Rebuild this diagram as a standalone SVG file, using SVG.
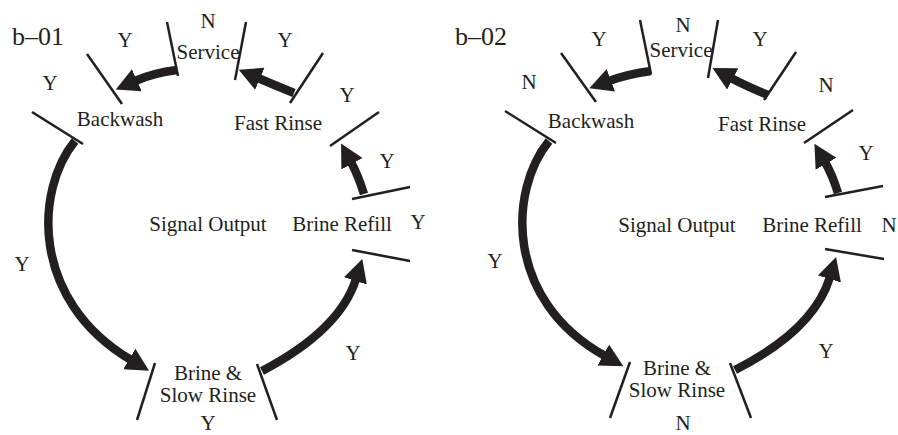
<svg xmlns="http://www.w3.org/2000/svg" width="898" height="435" viewBox="0 0 898 435">
<style>
text{font-family:"Liberation Serif","Times New Roman",serif;font-size:21px;fill:#231f20;text-anchor:middle}
.title{font-size:26px;text-anchor:start}
.tick{stroke:#231f20;stroke-width:2.5;fill:none}
.arr{stroke:#231f20;stroke-width:8.5;fill:none;marker-end:url(#head)}
</style>
<defs>
<marker id="head" markerUnits="userSpaceOnUse" markerWidth="24" markerHeight="26" viewBox="0 -13 24 26" refX="2" refY="0" orient="auto">
<path d="M0,-12 L23,0 L0,12 Z" fill="#231f20"/>
</marker>
</defs>
<rect width="898" height="435" fill="#ffffff"/>

<!-- Panel b-01 -->
<g id="panel-b01">
<text class="title" x="12" y="45">b–01</text>
<g id="b01-service"><text x="208" y="28">N</text><text x="208" y="59">Service</text></g>
<g id="b01-backwash"><text x="120" y="126">Backwash</text></g>
<g id="b01-fastrinse"><text x="278" y="130">Fast Rinse</text></g>
<g id="b01-signal"><text x="208" y="231">Signal Output</text></g>
<g id="b01-brinerefill"><text x="342" y="231">Brine Refill</text></g>
<g id="b01-slowrinse"><text x="208" y="380">Brine &amp;</text><text x="208" y="402">Slow Rinse</text></g>
<g id="b01-labels">
<text x="125" y="47">Y</text>
<text x="285" y="47">Y</text>
<text x="50" y="90">Y</text>
<text x="347" y="102">Y</text>
<text x="387" y="168">Y</text>
<text x="418" y="229">Y</text>
<text x="22" y="271">Y</text>
<text x="353" y="360">Y</text>
<text x="208" y="430">Y</text>
</g>
<g id="b01-ticks">
<line class="tick" x1="167" y1="22" x2="178" y2="76"/>
<line class="tick" x1="246" y1="22" x2="235" y2="80"/>
<line class="tick" x1="87" y1="54" x2="122" y2="104"/>
<line class="tick" x1="323" y1="53" x2="290" y2="103"/>
<line class="tick" x1="32" y1="112" x2="83" y2="144"/>
<line class="tick" x1="379" y1="112" x2="330" y2="146"/>
<line class="tick" x1="352" y1="199" x2="410" y2="187"/>
<line class="tick" x1="352" y1="250" x2="410" y2="261"/>
<line class="tick" x1="155" y1="363" x2="137" y2="420"/>
<line class="tick" x1="257" y1="364" x2="277" y2="420"/>
</g>
</g>

<!-- Panel b-02 -->
<g id="panel-b02">
<text class="title" x="455" y="45">b–02</text>
<g id="b02-service"><text x="683" y="32">N</text><text x="681" y="57">Service</text></g>
<g id="b02-backwash"><text x="591" y="128">Backwash</text></g>
<g id="b02-fastrinse"><text x="762" y="131">Fast Rinse</text></g>
<g id="b02-signal"><text x="677" y="232">Signal Output</text></g>
<g id="b02-brinerefill"><text x="812" y="232">Brine Refill</text></g>
<g id="b02-slowrinse"><text x="677" y="375">Brine &amp;</text><text x="677" y="397">Slow Rinse</text></g>
<g id="b02-labels">
<text x="599" y="46">Y</text>
<text x="760" y="46">Y</text>
<text x="529" y="89">N</text>
<text x="826" y="92">N</text>
<text x="866" y="160">Y</text>
<text x="889" y="232">N</text>
<text x="495" y="268">Y</text>
<text x="826" y="358">Y</text>
<text x="683" y="430">N</text>
</g>
<g id="b02-ticks">
<line class="tick" x1="640" y1="20" x2="651" y2="74"/>
<line class="tick" x1="718" y1="20" x2="708" y2="78"/>
<line class="tick" x1="561" y1="53" x2="596" y2="102"/>
<line class="tick" x1="796" y1="52" x2="764" y2="100"/>
<line class="tick" x1="505" y1="111" x2="556" y2="143"/>
<line class="tick" x1="853" y1="110" x2="804" y2="143"/>
<line class="tick" x1="825" y1="197" x2="883" y2="186"/>
<line class="tick" x1="825" y1="249" x2="884" y2="259"/>
<line class="tick" x1="630" y1="362" x2="610" y2="418"/>
<line class="tick" x1="730" y1="363" x2="751" y2="418"/>
</g>
</g>

<g id="connectors">
<path class="arr" d="M177,70 Q153,73 135,81"/>
<path class="arr" d="M294,93 Q272,84 258,78"/>
<path class="arr" d="M364,194 Q358,175 351,162"/>
<path class="arr" d="M75,141 C35,190 30,300 131,360"/>
<path class="arr" d="M262,371 Q340,330 356,279"/>
<path class="arr" d="M651,71 Q628,74 609,81"/>
<path class="arr" d="M768,95 Q746,86 731,78"/>
<path class="arr" d="M838,193 Q832,174 825,162"/>
<path class="arr" d="M549,141 C509,190 504,300 605,356"/>
<path class="arr" d="M735,370 Q814,330 830,277"/>
</g>
</svg>
